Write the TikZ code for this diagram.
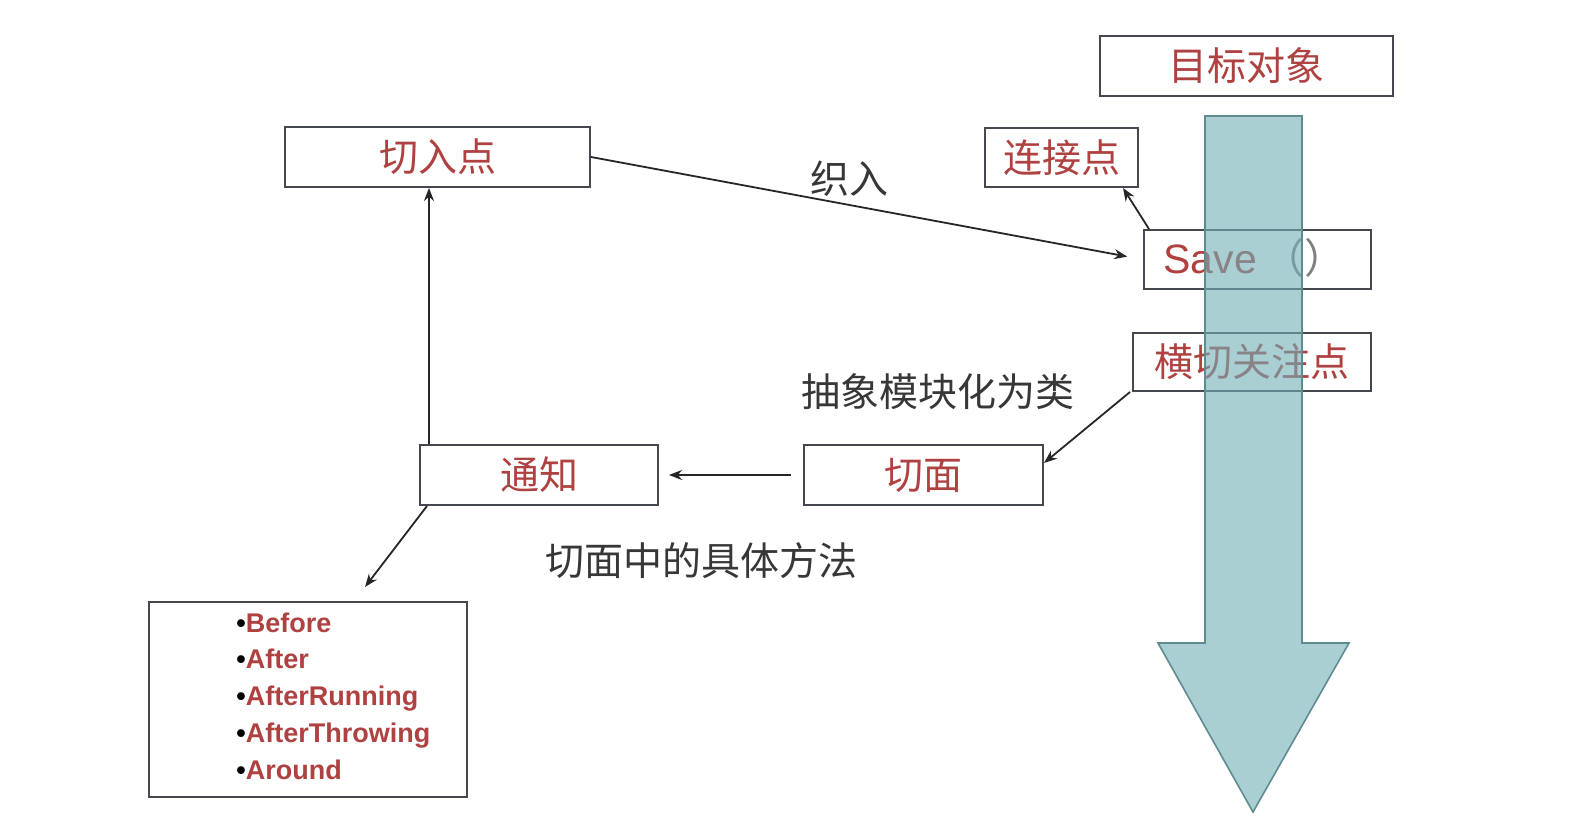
\documentclass[tikz,border=0pt]{standalone}
\usepackage{fontspec}
\setmainfont{Liberation Sans}
\newfontfamily\cjk{Noto Sans CJK SC}
\usetikzlibrary{arrows.meta}
\definecolor{lbl}{RGB}{175,65,65}
\definecolor{boxc}{RGB}{70,72,80}
\definecolor{txt}{RGB}{55,55,55}
\definecolor{teal}{RGB}{112,176,183}
\definecolor{tealb}{RGB}{95,140,145}
\begin{document}
\begin{tikzpicture}[x=0.5pt,y=-0.5pt,
  box/.style={draw=boxc, line width=1pt, inner sep=0pt, font=\cjk\fontsize{19.5}{21}\selectfont, text=lbl},
  conn/.style={draw=black!85, line width=0.9pt, -{Stealth[length=6.5pt,width=5pt]}},
  note/.style={font=\cjk\fontsize{19.5}{21}\selectfont, text=txt}]
\fill[white] (0,0) rectangle (1576,840);
\useasboundingbox (0,0) rectangle (1576,840);

% boxes
\node[box, minimum width=146.5pt, minimum height=30pt] (mbdx) at (1246.5,66) {目标对象};
\node[box, minimum width=152.5pt, minimum height=30pt] (qrd) at (437.5,157) {切入点};
\node[box, minimum width=76.5pt, minimum height=29.5pt] (ljd) at (1061.5,157.5) {连接点};
\node[box, minimum width=113.5pt, minimum height=29.5pt] (save) at (1257.5,259.5) {};
\node[anchor=west, inner sep=0pt, font=\fontsize{20.5}{22}\selectfont, text=lbl] (savetxt) at (1163,258) {Save\,{\cjk\color{gray}（）}};
\node[box, minimum width=119pt, minimum height=29pt] (hq) at (1252,362) {横切关注点};
\node[box, minimum width=119pt, minimum height=30pt] (tz) at (539,475) {通知};
\node[box, minimum width=119.5pt, minimum height=30pt] (qm) at (923.5,475) {切面};
\node[draw=boxc, line width=1pt, minimum width=159pt, minimum height=97.5pt, inner sep=0pt] (lst) at (308,699.5) {};
\node[anchor=west, align=left, inner sep=0pt, text=lbl,
      font=\fontsize{13.5}{18.4}\selectfont\bfseries] (lsttxt) at (236,696)
  {\textcolor{black}{•}Before\\
   \textcolor{black}{•}After\\
   \textcolor{black}{•}AfterRunning\\
   \textcolor{black}{•}AfterThrowing\\
   \textcolor{black}{•}Around};

% free labels
\node[note] (zr) at (849,179) {织入};
\node[note] (cx) at (938,392) {抽象模块化为类};
\node[note] (jt) at (701,561) {切面中的具体方法};

% connectors
\coordinate (lsttip) at ([xshift=28.5pt,yshift=7pt]lst.north);
\draw[conn, shorten >=8pt] (qrd.east) -- (save.west);
\draw[conn] ([xshift=3pt]save.north west) -- ([xshift=-8pt]ljd.south east);
\draw[conn] ([xshift=-1pt]hq.south west) -- ([yshift=6pt]qm.east);
\draw[conn, shorten <=6pt, shorten >=5pt] (qm.west) -- (tz.east);
\draw[conn] ([xshift=5pt]tz.north west) -- ([xshift=5pt]tz.north west |- qrd.south);
\draw[conn] ([xshift=4pt]tz.south west) -- (lsttip);

% big arrow (translucent, on top)
\path[fill=teal, fill opacity=0.6, draw=tealb, line width=0.8pt]
  (1205,116) -- (1302,116) -- (1302,643) -- (1349,643) -- (1253,812)
  -- (1158,643) -- (1205,643) -- cycle;
\end{tikzpicture}
\end{document}
